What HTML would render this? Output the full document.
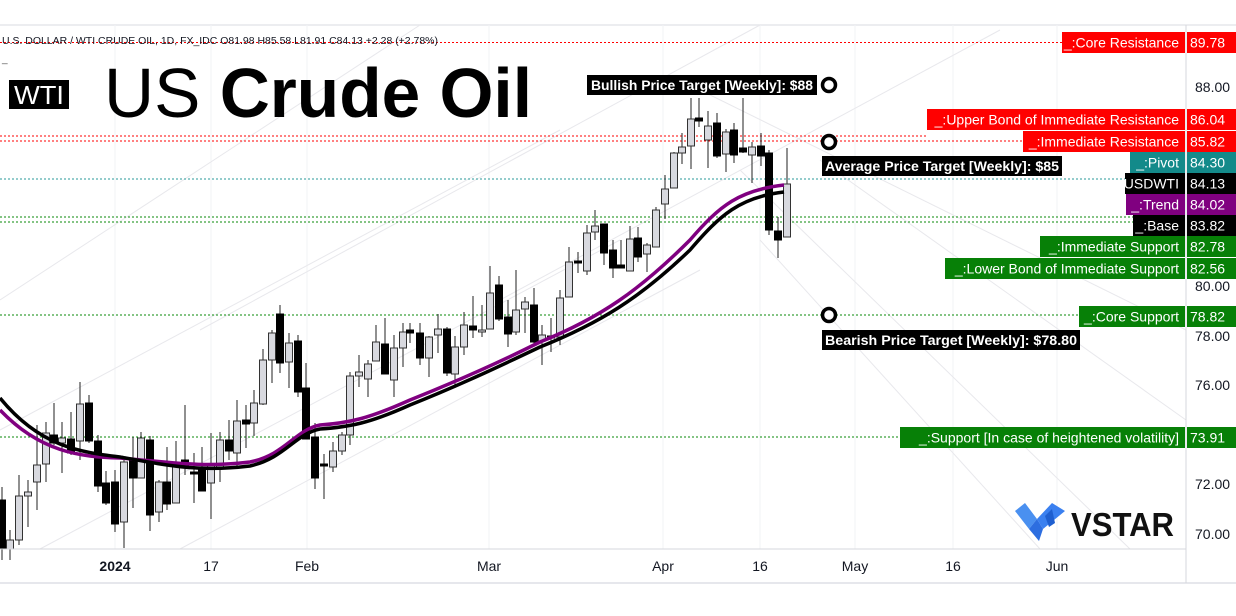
<!DOCTYPE html>
<html><head><meta charset="utf-8"><style>
body{margin:0;background:#fff;width:1236px;height:616px;overflow:hidden;font-family:"Liberation Sans",sans-serif}
svg{display:block}
</style></head><body>
<svg id="s" width="1236" height="616" viewBox="0 0 1236 616" xmlns="http://www.w3.org/2000/svg">
<rect width="1236" height="616" fill="#fff"/>
<line x1="0" y1="25" x2="1236" y2="25" stroke="#e6e7ec" stroke-width="1.5"/>
<g stroke="#f2f3f5" stroke-width="1">
<line x1="115" y1="25" x2="115" y2="549"/><line x1="211" y1="25" x2="211" y2="549"/><line x1="307" y1="25" x2="307" y2="549"/><line x1="489" y1="25" x2="489" y2="549"/><line x1="663" y1="25" x2="663" y2="549"/><line x1="760" y1="25" x2="760" y2="549"/><line x1="855" y1="25" x2="855" y2="549"/><line x1="953" y1="25" x2="953" y2="549"/><line x1="1057" y1="25" x2="1057" y2="549"/>
</g>
<g stroke="#e8e8ec" stroke-width="1" fill="none">
<line x1="0" y1="430" x2="560" y2="130"/>
<line x1="40" y1="549" x2="620" y2="240"/>
<line x1="180" y1="549" x2="700" y2="270"/>
<line x1="0" y1="300" x2="420" y2="25"/>
<line x1="200" y1="330" x2="760" y2="25"/>
<line x1="500" y1="300" x2="1000" y2="30"/>
<line x1="700" y1="90" x2="1186" y2="330"/>
<line x1="740" y1="170" x2="1130" y2="549"/>
<line x1="760" y1="240" x2="1040" y2="549"/>
<line x1="820" y1="160" x2="1186" y2="420"/>
</g>
<g stroke-dasharray="2,2" stroke-width="1">
<line x1="0" y1="42.5" x2="1062" y2="42.5" stroke="#f00"/>
<line x1="0" y1="136" x2="927" y2="136" stroke="#f00"/>
<line x1="0" y1="141" x2="1023" y2="141" stroke="#f00"/>
<line x1="0" y1="179" x2="1130" y2="179" stroke="#2a9a9a"/>
<line x1="0" y1="217" x2="1133" y2="217" stroke="#0a8a0a"/>
<line x1="0" y1="222" x2="1133" y2="222" stroke="#0a8a0a"/>
<line x1="0" y1="315" x2="1079" y2="315" stroke="#0a8a0a"/>
<line x1="0" y1="437" x2="900" y2="437" stroke="#0a8a0a"/>
</g>
<g id="c"></g>
<path d="M0,410 C40,452 80,457 120,458 C170,462 200,468 250,462 C285,455 295,430 320,425 C350,423 370,418 410,400 C460,380 500,362 540,342 C600,318 640,290 690,240 C720,205 740,190 784,185" stroke="#800080" stroke-width="3.5" fill="none"/>
<path d="M0,398 C40,447 80,452 120,457 C170,466 200,472 250,466 C285,458 295,434 320,429 C350,427 370,423 410,405 C460,385 500,366 540,347 C600,323 640,298 690,250 C720,215 740,197 784,192" stroke="#000" stroke-width="3.5" fill="none"/>
<line x1="0" y1="549" x2="1186" y2="549" stroke="#d6d7dc"/>
<line x1="0" y1="583" x2="1236" y2="583" stroke="#e6e7ec" stroke-width="2"/>
<line x1="1186" y1="25" x2="1186" y2="583" stroke="#d6d7dc"/>
<g font-size="14" fill="#131722" text-anchor="middle">
<text x="115" y="571" font-weight="bold">2024</text><text x="211" y="571">17</text><text x="307" y="571">Feb</text><text x="489" y="571">Mar</text><text x="663" y="571">Apr</text><text x="760" y="571">16</text><text x="855" y="571">May</text><text x="953" y="571">16</text><text x="1057" y="571">Jun</text>
</g>
<g font-size="14" fill="#131722">
<text x="1195" y="92">88.00</text><text x="1195" y="291">80.00</text><text x="1195" y="341">78.00</text><text x="1195" y="390">76.00</text><text x="1195" y="489">72.00</text><text x="1195" y="539">70.00</text>
</g>
<text x="2" y="44" font-size="10" fill="#131722" textLength="436" lengthAdjust="spacingAndGlyphs">U.S. DOLLAR / WTI CRUDE OIL, 1D, FX_IDC  O81.98  H85.58  L81.91  C84.13  +2.28 (+2.78%)</text>
<text x="2" y="62" font-size="10" fill="#555">_</text>
<rect x="9" y="80" width="60" height="29" fill="#000"/>
<text x="39" y="104" font-size="26" fill="#fff" text-anchor="middle" textLength="50" lengthAdjust="spacingAndGlyphs">WTI</text>
<text x="104" y="117" font-size="70" fill="#000" textLength="428" lengthAdjust="spacingAndGlyphs"><tspan font-weight="normal">US </tspan><tspan font-weight="bold">Crude Oil</tspan></text>
<g font-size="13.5" font-weight="bold" fill="#fff">
<rect x="587" y="75" width="230" height="20" fill="#000"/><text x="591" y="90" textLength="222" lengthAdjust="spacingAndGlyphs">Bullish Price Target [Weekly]: $88</text>
<rect x="822" y="156" width="240" height="20" fill="#000"/><text x="825" y="171" textLength="234" lengthAdjust="spacingAndGlyphs">Average Price Target [Weekly]: $85</text>
<rect x="822" y="330" width="258" height="20" fill="#000"/><text x="825" y="345" textLength="252" lengthAdjust="spacingAndGlyphs">Bearish Price Target [Weekly]: $78.80</text>
</g>
<g fill="#fff" stroke="#000" stroke-width="3.5">
<circle cx="829" cy="85" r="6.5"/><circle cx="829" cy="142" r="6.5"/><circle cx="829" cy="315" r="6.5"/>
</g>
<g id="lbls" font-size="14" fill="#fff"></g>
<g transform="translate(1015,503)">
<path d="M0,8 L10,0 L22,16 L14,26 Z" fill="#4a90f0"/>
<path d="M14,26 L22,16 L28,26 L24,38 Z" fill="#2d6ee0"/>
<path d="M22,16 L37,0 L50,8 L28,26 Z" fill="#3a80f0"/>
<path d="M30,13 L37,6 L40,20 L34,24 Z" fill="#1e5fd0"/>
<text x="56" y="33" font-size="33" font-weight="bold" fill="#111" textLength="103" lengthAdjust="spacingAndGlyphs">VSTAR</text>
</g>
</svg>
<script>
var C=[[2,500,549,487,560,1],[10,540,549,530,560,0],[19,496,540,475,545,0],[28,492,496,480,527,0],[37,465,482,425,510,0],[46,433,464,422,482,0],[54,435,443,403,445,1],[62,438,443,422,473,0],[71,439,453,412,455,1],[80,404,441,382,460,0],[89,403,441,395,443,1],[98,441,486,435,492,1],[106,483,503,471,505,1],[115,482,524,470,532,1],[124,462,522,458,548,0],[133,460,478,437,508,1],[141,438,478,432,478,0],[150,440,515,436,531,1],[159,482,512,480,522,0],[167,482,504,447,510,1],[176,466,503,441,503,0],[185,460,466,405,475,1],[194,472,474,453,503,1],[202,467,491,447,491,1],[211,465,483,433,519,0],[220,440,468,432,482,0],[229,440,451,420,460,1],[237,421,453,400,467,0],[246,420,424,405,448,1],[254,403,423,390,436,0],[263,360,404,349,405,0],[272,333,360,330,383,0],[280,314,363,305,373,1],[289,343,362,333,388,0],[298,341,392,335,397,1],[306,388,439,363,439,1],[315,437,478,423,489,1],[324,464,466,454,499,1],[333,451,467,442,472,0],[342,435,451,432,455,0],[350,376,435,372,445,0],[359,372,376,355,387,0],[368,364,379,360,397,0],[376,342,361,325,361,0],[385,344,374,318,374,1],[394,348,380,335,397,0],[403,332,348,323,367,0],[410,330,333,323,343,1],[420,333,358,323,365,1],[429,337,358,336,377,0],[438,329,335,314,353,0],[447,329,373,327,376,1],[455,347,374,336,388,0],[464,325,347,312,355,0],[473,326,330,296,338,1],[482,330,332,305,337,0],[490,293,329,266,329,0],[499,285,319,276,321,1],[508,317,334,300,347,1],[516,310,332,270,335,0],[525,302,309,297,333,0],[534,305,342,288,345,1],[542,335,341,325,365,0],[551,336,338,318,352,1],[560,298,337,290,345,0],[569,262,297,247,297,0],[578,261,263,252,273,1],[587,233,271,225,275,0],[595,226,232,210,240,0],[604,224,253,224,265,1],[613,250,268,240,278,1],[621,265,268,240,268,1],[630,239,271,226,271,0],[638,238,257,227,262,1],[647,245,254,243,272,0],[656,210,247,207,247,0],[665,189,204,175,219,0],[674,153,188,152,188,0],[682,147,153,133,164,0],[691,119,146,98,169,0],[699,118,121,98,127,1],[708,126,140,111,168,0],[717,123,156,113,158,1],[726,132,154,129,172,0],[734,130,155,123,163,1],[743,148,152,98,153,1],[752,147,155,142,183,0],[761,146,156,133,166,1],[769,153,230,150,235,1],[778,231,240,217,258,1],[787,184,237,148,237,0]];
var g=document.getElementById('c'),h='';
C.forEach(function(c){var x=c[0];h+='<line x1="'+x+'" y1="'+c[3]+'" x2="'+x+'" y2="'+c[4]+'" stroke="#222" stroke-width="1"/>';
var ht=Math.max(c[2]-c[1],1.5);h+='<rect x="'+(x-3.5)+'" y="'+c[1]+'" width="7" height="'+ht+'" fill="'+(c[5]?'#000':'#d8d9df')+'" stroke="'+(c[5]?'#000':'#333')+'" stroke-width="1"/>';});
g.innerHTML=h;
var L=[[1062,32,'#f00','_:Core Resistance','89.78'],[927,109,'#f00','_:Upper Bond of Immediate Resistance','86.04'],[1023,131,'#f00','_:Immediate Resistance','85.82'],[1130,152,'#138a8a','_:Pivot','84.30'],[1125,173,'#000','USDWTI','84.13'],[1126,194,'#800080','_:Trend','84.02'],[1133,215,'#000','_:Base','83.82'],[1040,236,'#078007','_:Immediate Support','82.78'],[945,258,'#078007','_:Lower Bond of Immediate Support','82.56'],[1079,306,'#078007','_:Core Support','78.82'],[900,427,'#078007','_:Support [In case of heightened volatility]','73.91']];
var s='';L.forEach(function(l){s+='<rect x="'+l[0]+'" y="'+l[1]+'" width="'+(1185-l[0])+'" height="21" fill="'+l[2]+'"/><rect x="1187" y="'+l[1]+'" width="49" height="21" fill="'+l[2]+'"/><text x="1179" y="'+(l[1]+15.5)+'" text-anchor="end">'+l[3]+'</text><text x="1190" y="'+(l[1]+15.5)+'">'+l[4]+'</text>';});
document.getElementById('lbls').innerHTML=s;
</script>
</body></html>
